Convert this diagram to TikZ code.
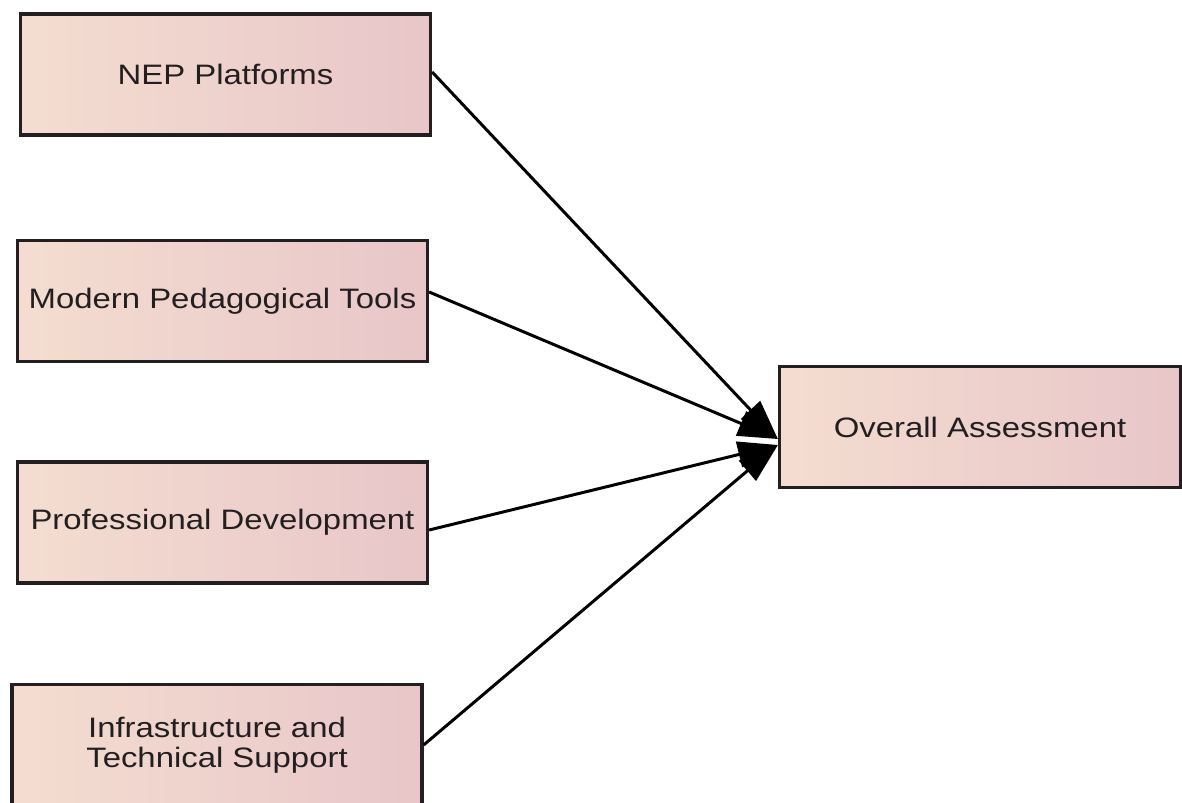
\documentclass[tikz,border=0pt]{standalone}
\usepackage{fontspec}
\newfontfamily\boxfont[FakeStretch=1.17]{Liberation Sans}
\usetikzlibrary{arrows.meta}
\definecolor{boxpeach}{HTML}{F4DDD0}
\definecolor{boxpink}{HTML}{E8C6C9}
\definecolor{inkdark}{HTML}{231F20}
\tikzset{
  factor/.style={draw=inkdark, line width=1.9pt, left color=boxpeach, right color=boxpink,
    minimum width=8.2cm, minimum height=2.42cm, inner sep=0pt, align=center,
    text=inkdark, font=\boxfont\fontsize{16}{17}\selectfont},
  link/.style={line width=1.7pt, -{Triangle[length=0.8cm,width=0.52cm]}}
}

\begin{document}
\begin{tikzpicture}[x=0.02cm,y=-0.02cm]
    \useasboundingbox (0,0) rectangle (1182,803);
    % predictors on the left, outcome on the right
    \node[factor] (nep) at (225.5,74.5) {NEP Platforms};
    \node[factor] (tools) at (222.5,301) {Modern Pedagogical Tools};
    \node[factor] (prof) at (222.5,522.5) {Professional Development};
    \node[factor] (infra) at (217,745) {Infrastructure and\\Technical Support};
    \node[factor,minimum width=8.02cm] (overall) at (980,427) {Overall Assessment};
    \coordinate (hitup) at ([yshift=-0.24cm]overall.west);
    \coordinate (hitlow) at ([yshift=-0.36cm]overall.west);
    \draw[link] ([yshift=0.05cm]nep.east) -- (hitup);
    \draw[link] ([yshift=0.18cm]tools.east) -- (hitup);
    \draw[link] ([yshift=-0.15cm]prof.east) -- (hitlow);
    \draw[link] (infra.east) -- (hitlow);
  \end{tikzpicture}
\end{document}
